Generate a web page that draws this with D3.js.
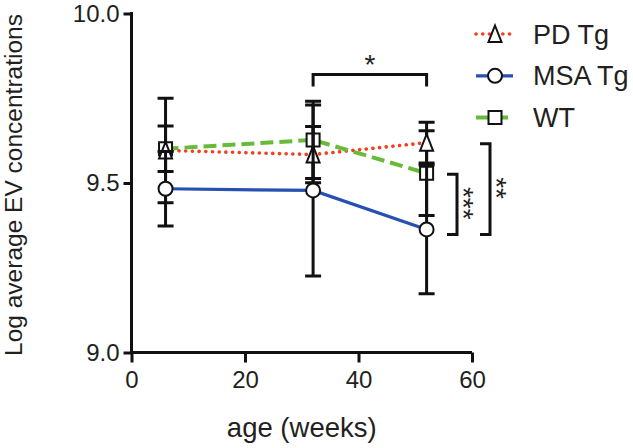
<!DOCTYPE html>
<html>
<head>
<meta charset="utf-8">
<script src="https://cdn.jsdelivr.net/npm/d3@7/dist/d3.min.js"></script>
<style>
  body { margin: 0; background: #fff; }
  text { font-family: "Liberation Sans", Arial, sans-serif; fill: #231f20; }
</style>
</head>
<body>
<svg id="chart" width="633" height="448"></svg>
<script>
// age in weeks
var ages = [6, 32, 52];

// log average EV concentrations, mean and error
var pdMean = [9.596, 9.584, 9.619],
    pdErr = [0.154, 0.083, 0.060];
var msaMean = [9.483, 9.478, 9.363],
    msaErr = [0.110, 0.252, 0.190];
var wtMean = [9.601, 9.627, 9.529],
    wtErr = [0.067, 0.114, 0.125];

var seriesNames = ['PD Tg', 'MSA Tg', 'WT'];
var xTicks = [0, 20, 40, 60];
var yTicks = [9.0, 9.5, 10.0];

var svg = d3.select('#chart');

var x = d3.scaleLinear().domain([0, 60]).range([131.5, 472]),
    y = d3.scaleLinear().domain([9, 10]).range([352.5, 13.5]);

var series = [
    {name: seriesNames[0], mean: pdMean, err: pdErr, color: '#f2401f', dash: '0.1 6.6', width: 3.6, cap: 'round', symbol: 'triangle'},
    {name: seriesNames[1], mean: msaMean, err: msaErr, color: '#2650b2', dash: null, width: 3.2, cap: 'butt', symbol: 'circle'},
    {name: seriesNames[2], mean: wtMean, err: wtErr, color: '#66bb3a', dash: '13 6', width: 4, cap: 'butt', symbol: 'square'}
];

function markerPath(sym) {
    if(sym === 'triangle') return 'M0,-8.5L6.5,8L-6.5,8Z';
    if(sym === 'square') return 'M-6.5,-6.5H6.5V6.5H-6.5Z';
    return 'M-7,0A7,7 0 1,0 7,0A7,7 0 1,0 -7,0Z';
}

// axes
var yAxis = svg.append('g')
    .attr('transform', 'translate(' + x(0) + ',0)')
    .call(d3.axisLeft(y).tickValues(yTicks).tickFormat(d3.format('.1f'))
        .tickSize(8).tickSizeOuter(0).tickPadding(4));
var xAxis = svg.append('g')
    .attr('transform', 'translate(0,' + y(9) + ')')
    .call(d3.axisBottom(x).tickValues(xTicks).tickSize(10).tickSizeOuter(0).tickPadding(8));

[yAxis, xAxis].forEach(function(ax) {
    ax.select('.domain').attr('stroke', '#111').attr('stroke-width', 3);
    ax.selectAll('.tick line').attr('stroke', '#111').attr('stroke-width', 3);
    ax.selectAll('.tick text').style('font-size', '24px').attr('fill', '#231f20');
});
yAxis.select('.domain').attr('d', 'M0,' + (y(10) - 1.5) + 'V' + (y(9) + 1.5));
xAxis.select('.domain').attr('d', 'M' + (x(0) - 1.5) + ',0H' + x(60));

// axis titles
svg.append('text')
    .attr('transform', 'translate(21.5,' + (y(9.5) + 2) + ') rotate(-90)')
    .attr('text-anchor', 'middle')
    .attr('textLength', 342)
    .attr('lengthAdjust', 'spacingAndGlyphs')
    .style('font-size', '23.5px')
    .text('Log average EV concentrations');
svg.append('text')
    .attr('x', (x(0) + x(60)) / 2)
    .attr('y', 437)
    .attr('text-anchor', 'middle')
    .style('font-size', '27.5px')
    .text('age (weeks)');

// connecting lines
var line = d3.line()
    .x(function(d) { return x(d.age); })
    .y(function(d) { return y(d.v); });

series.forEach(function(s) {
    svg.append('path')
        .datum(ages.map(function(a, i) { return {age: a, v: s.mean[i]}; }))
        .attr('d', line)
        .attr('fill', 'none')
        .attr('stroke', s.color)
        .attr('stroke-width', s.width)
        .attr('stroke-linecap', s.cap)
        .attr('stroke-dasharray', s.dash);
});

// error bars and markers (WT first, MSA on top)
[series[2], series[0], series[1]].forEach(function(s) {
    var g = svg.append('g');
    ages.forEach(function(a, i) {
        var cx = x(a),
            lo = y(s.mean[i] - s.err[i]),
            hi = y(s.mean[i] + s.err[i]);
        g.append('path')
            .attr('d', 'M' + cx + ',' + lo + 'V' + hi +
                'M' + (cx - 8) + ',' + lo + 'H' + (cx + 8) +
                'M' + (cx - 8) + ',' + hi + 'H' + (cx + 8))
            .attr('fill', 'none')
            .attr('stroke', '#111')
            .attr('stroke-width', 3);
    });
    g.selectAll('path.pt')
        .data(ages)
        .enter().append('path')
        .attr('class', 'pt')
        .attr('transform', function(a, i) { return 'translate(' + x(a) + ',' + y(s.mean[i]) + ')'; })
        .attr('d', markerPath(s.symbol))
        .attr('fill', '#fff')
        .attr('stroke', '#111')
        .attr('stroke-width', 2);
});

// significance brackets
var sigTop = {x0: 32, x1: 52, v: 9.82, label: '*'};
svg.append('path')
    .attr('d', 'M' + x(sigTop.x0) + ',' + (y(sigTop.v) + 12) + 'V' + y(sigTop.v) +
        'H' + x(sigTop.x1) + 'V' + (y(sigTop.v) + 12))
    .attr('fill', 'none').attr('stroke', '#111').attr('stroke-width', 3);
svg.append('text')
    .attr('x', (x(sigTop.x0) + x(sigTop.x1)) / 2)
    .attr('y', y(sigTop.v) - 1)
    .attr('text-anchor', 'middle')
    .style('font-size', '28px')
    .text(sigTop.label);

var sigSide = [
    {v0: wtMean[2], v1: msaMean[2], left: 447, right: 457, label: '***'},
    {v0: pdMean[2], v1: msaMean[2], left: 480, right: 490, label: '**'}
];
sigSide.forEach(function(b) {
    var top = y(b.v0) + 1, bot = y(b.v1) + 5;
    svg.append('path')
        .attr('d', 'M' + b.left + ',' + top + 'H' + b.right + 'V' + bot + 'H' + b.left)
        .attr('fill', 'none').attr('stroke', '#111').attr('stroke-width', 3);
    svg.append('text')
        .attr('transform', 'translate(' + (b.right - 3) + ',' + ((top + bot) / 2 - 1) + ') rotate(90)')
        .attr('text-anchor', 'middle')
        .style('font-size', '28px')
        .text(b.label);
});

// legend
var legend = svg.append('g');
series.forEach(function(s, i) {
    var ly = 34 + i * 41.8;
    legend.append('path')
        .attr('d', 'M476,' + ly + 'H513')
        .attr('fill', 'none')
        .attr('stroke', s.color)
        .attr('stroke-width', s.width)
        .attr('stroke-linecap', s.cap)
        .attr('stroke-dasharray', s.dash);
    legend.append('path')
        .attr('transform', 'translate(495,' + ly + ')')
        .attr('d', markerPath(s.symbol))
        .attr('fill', '#fff')
        .attr('stroke', '#111')
        .attr('stroke-width', 2);
    legend.append('text')
        .attr('x', 533)
        .attr('y', ly + 9.5)
        .style('font-size', '27px')
        .text(s.name);
});
</script>
</body>
</html>
